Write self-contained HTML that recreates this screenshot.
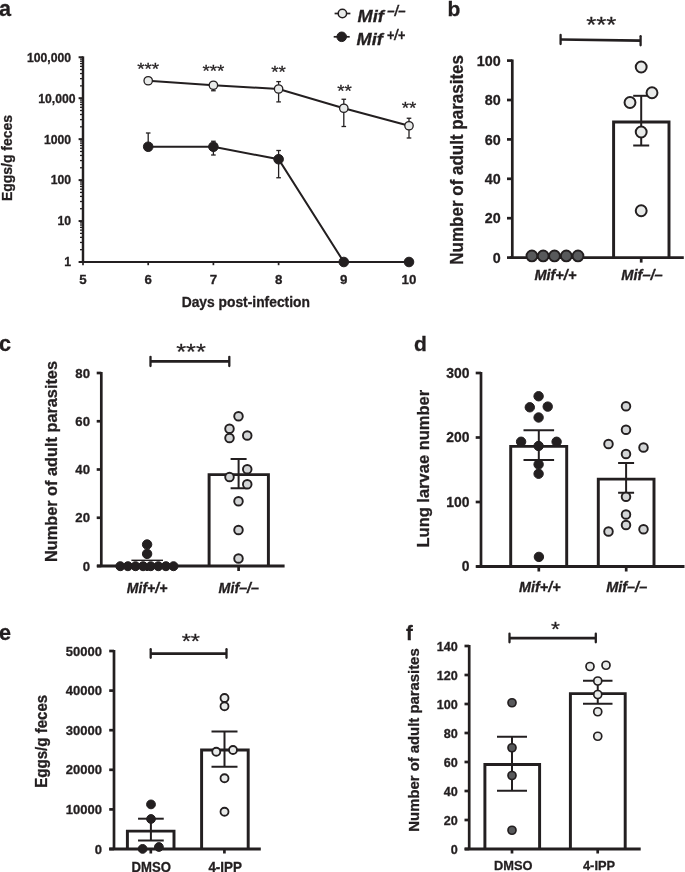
<!DOCTYPE html>
<html lang="en">
<head>
<meta charset="utf-8">
<title>Figure</title>
<style>
html,body{margin:0;padding:0;background:#fff;}
body{width:685px;height:872px;overflow:hidden;}
svg{display:block;}
svg text{font-family:"Liberation Sans",Arial,Helvetica,sans-serif;fill:#231f20;}
</style>
</head>
<body>
<svg width="685" height="872" viewBox="0 0 685 872">
<rect x="0" y="0" width="685" height="872" fill="#ffffff"/>
<text x="-1.00" y="15.90" font-size="21.6" font-weight="bold" font-style="normal" text-anchor="start" stroke="#231f20" stroke-width="0.3">a</text>
<line x1="80.00" y1="249.67" x2="83.00" y2="249.67" stroke="#231f20" stroke-width="1.3" stroke-linecap="butt"/>
<line x1="80.00" y1="242.46" x2="83.00" y2="242.46" stroke="#231f20" stroke-width="1.3" stroke-linecap="butt"/>
<line x1="80.00" y1="237.35" x2="83.00" y2="237.35" stroke="#231f20" stroke-width="1.3" stroke-linecap="butt"/>
<line x1="80.00" y1="233.38" x2="83.00" y2="233.38" stroke="#231f20" stroke-width="1.3" stroke-linecap="butt"/>
<line x1="80.00" y1="230.13" x2="83.00" y2="230.13" stroke="#231f20" stroke-width="1.3" stroke-linecap="butt"/>
<line x1="80.00" y1="227.39" x2="83.00" y2="227.39" stroke="#231f20" stroke-width="1.3" stroke-linecap="butt"/>
<line x1="80.00" y1="225.02" x2="83.00" y2="225.02" stroke="#231f20" stroke-width="1.3" stroke-linecap="butt"/>
<line x1="80.00" y1="222.92" x2="83.00" y2="222.92" stroke="#231f20" stroke-width="1.3" stroke-linecap="butt"/>
<line x1="80.00" y1="208.72" x2="83.00" y2="208.72" stroke="#231f20" stroke-width="1.3" stroke-linecap="butt"/>
<line x1="80.00" y1="201.51" x2="83.00" y2="201.51" stroke="#231f20" stroke-width="1.3" stroke-linecap="butt"/>
<line x1="80.00" y1="196.40" x2="83.00" y2="196.40" stroke="#231f20" stroke-width="1.3" stroke-linecap="butt"/>
<line x1="80.00" y1="192.43" x2="83.00" y2="192.43" stroke="#231f20" stroke-width="1.3" stroke-linecap="butt"/>
<line x1="80.00" y1="189.18" x2="83.00" y2="189.18" stroke="#231f20" stroke-width="1.3" stroke-linecap="butt"/>
<line x1="80.00" y1="186.44" x2="83.00" y2="186.44" stroke="#231f20" stroke-width="1.3" stroke-linecap="butt"/>
<line x1="80.00" y1="184.07" x2="83.00" y2="184.07" stroke="#231f20" stroke-width="1.3" stroke-linecap="butt"/>
<line x1="80.00" y1="181.97" x2="83.00" y2="181.97" stroke="#231f20" stroke-width="1.3" stroke-linecap="butt"/>
<line x1="80.00" y1="167.77" x2="83.00" y2="167.77" stroke="#231f20" stroke-width="1.3" stroke-linecap="butt"/>
<line x1="80.00" y1="160.56" x2="83.00" y2="160.56" stroke="#231f20" stroke-width="1.3" stroke-linecap="butt"/>
<line x1="80.00" y1="155.45" x2="83.00" y2="155.45" stroke="#231f20" stroke-width="1.3" stroke-linecap="butt"/>
<line x1="80.00" y1="151.48" x2="83.00" y2="151.48" stroke="#231f20" stroke-width="1.3" stroke-linecap="butt"/>
<line x1="80.00" y1="148.23" x2="83.00" y2="148.23" stroke="#231f20" stroke-width="1.3" stroke-linecap="butt"/>
<line x1="80.00" y1="145.49" x2="83.00" y2="145.49" stroke="#231f20" stroke-width="1.3" stroke-linecap="butt"/>
<line x1="80.00" y1="143.12" x2="83.00" y2="143.12" stroke="#231f20" stroke-width="1.3" stroke-linecap="butt"/>
<line x1="80.00" y1="141.02" x2="83.00" y2="141.02" stroke="#231f20" stroke-width="1.3" stroke-linecap="butt"/>
<line x1="80.00" y1="126.82" x2="83.00" y2="126.82" stroke="#231f20" stroke-width="1.3" stroke-linecap="butt"/>
<line x1="80.00" y1="119.61" x2="83.00" y2="119.61" stroke="#231f20" stroke-width="1.3" stroke-linecap="butt"/>
<line x1="80.00" y1="114.50" x2="83.00" y2="114.50" stroke="#231f20" stroke-width="1.3" stroke-linecap="butt"/>
<line x1="80.00" y1="110.53" x2="83.00" y2="110.53" stroke="#231f20" stroke-width="1.3" stroke-linecap="butt"/>
<line x1="80.00" y1="107.28" x2="83.00" y2="107.28" stroke="#231f20" stroke-width="1.3" stroke-linecap="butt"/>
<line x1="80.00" y1="104.54" x2="83.00" y2="104.54" stroke="#231f20" stroke-width="1.3" stroke-linecap="butt"/>
<line x1="80.00" y1="102.17" x2="83.00" y2="102.17" stroke="#231f20" stroke-width="1.3" stroke-linecap="butt"/>
<line x1="80.00" y1="100.07" x2="83.00" y2="100.07" stroke="#231f20" stroke-width="1.3" stroke-linecap="butt"/>
<line x1="80.00" y1="85.87" x2="83.00" y2="85.87" stroke="#231f20" stroke-width="1.3" stroke-linecap="butt"/>
<line x1="80.00" y1="78.66" x2="83.00" y2="78.66" stroke="#231f20" stroke-width="1.3" stroke-linecap="butt"/>
<line x1="80.00" y1="73.55" x2="83.00" y2="73.55" stroke="#231f20" stroke-width="1.3" stroke-linecap="butt"/>
<line x1="80.00" y1="69.58" x2="83.00" y2="69.58" stroke="#231f20" stroke-width="1.3" stroke-linecap="butt"/>
<line x1="80.00" y1="66.33" x2="83.00" y2="66.33" stroke="#231f20" stroke-width="1.3" stroke-linecap="butt"/>
<line x1="80.00" y1="63.59" x2="83.00" y2="63.59" stroke="#231f20" stroke-width="1.3" stroke-linecap="butt"/>
<line x1="80.00" y1="61.22" x2="83.00" y2="61.22" stroke="#231f20" stroke-width="1.3" stroke-linecap="butt"/>
<line x1="80.00" y1="59.12" x2="83.00" y2="59.12" stroke="#231f20" stroke-width="1.3" stroke-linecap="butt"/>
<line x1="78.60" y1="262.00" x2="83.00" y2="262.00" stroke="#231f20" stroke-width="2.0" stroke-linecap="butt"/>
<line x1="78.60" y1="221.05" x2="83.00" y2="221.05" stroke="#231f20" stroke-width="2.0" stroke-linecap="butt"/>
<line x1="78.60" y1="180.10" x2="83.00" y2="180.10" stroke="#231f20" stroke-width="2.0" stroke-linecap="butt"/>
<line x1="78.60" y1="139.15" x2="83.00" y2="139.15" stroke="#231f20" stroke-width="2.0" stroke-linecap="butt"/>
<line x1="78.60" y1="98.20" x2="83.00" y2="98.20" stroke="#231f20" stroke-width="2.0" stroke-linecap="butt"/>
<line x1="78.60" y1="57.25" x2="83.00" y2="57.25" stroke="#231f20" stroke-width="2.0" stroke-linecap="butt"/>
<line x1="83.00" y1="56.35" x2="83.00" y2="263.00" stroke="#231f20" stroke-width="2.45" stroke-linecap="butt"/>
<line x1="82.00" y1="262.00" x2="409.90" y2="262.00" stroke="#231f20" stroke-width="2.0" stroke-linecap="butt"/>
<line x1="83.00" y1="262.00" x2="83.00" y2="265.20" stroke="#231f20" stroke-width="1.7" stroke-linecap="butt"/>
<text x="83.00" y="284.10" font-size="13.3" font-weight="bold" font-style="normal" text-anchor="middle" stroke="#231f20" stroke-width="0.3">5</text>
<line x1="148.20" y1="262.00" x2="148.20" y2="265.20" stroke="#231f20" stroke-width="1.7" stroke-linecap="butt"/>
<text x="148.20" y="284.10" font-size="13.3" font-weight="bold" font-style="normal" text-anchor="middle" stroke="#231f20" stroke-width="0.3">6</text>
<line x1="213.40" y1="262.00" x2="213.40" y2="265.20" stroke="#231f20" stroke-width="1.7" stroke-linecap="butt"/>
<text x="213.40" y="284.10" font-size="13.3" font-weight="bold" font-style="normal" text-anchor="middle" stroke="#231f20" stroke-width="0.3">7</text>
<line x1="278.60" y1="262.00" x2="278.60" y2="265.20" stroke="#231f20" stroke-width="1.7" stroke-linecap="butt"/>
<text x="278.60" y="284.10" font-size="13.3" font-weight="bold" font-style="normal" text-anchor="middle" stroke="#231f20" stroke-width="0.3">8</text>
<line x1="343.80" y1="262.00" x2="343.80" y2="265.20" stroke="#231f20" stroke-width="1.7" stroke-linecap="butt"/>
<text x="343.80" y="284.10" font-size="13.3" font-weight="bold" font-style="normal" text-anchor="middle" stroke="#231f20" stroke-width="0.3">9</text>
<line x1="409.00" y1="262.00" x2="409.00" y2="265.20" stroke="#231f20" stroke-width="1.7" stroke-linecap="butt"/>
<text x="409.00" y="284.10" font-size="13.3" font-weight="bold" font-style="normal" text-anchor="middle" stroke="#231f20" stroke-width="0.3">10</text>
<text x="71.00" y="266.37" font-size="12.2" font-weight="bold" font-style="normal" text-anchor="end" stroke="#231f20" stroke-width="0.3">1</text>
<text x="71.00" y="225.42" font-size="12.2" font-weight="bold" font-style="normal" text-anchor="end" stroke="#231f20" stroke-width="0.3">10</text>
<text x="71.00" y="184.47" font-size="12.2" font-weight="bold" font-style="normal" text-anchor="end" stroke="#231f20" stroke-width="0.3">100</text>
<text x="71.00" y="143.52" font-size="12.2" font-weight="bold" font-style="normal" text-anchor="end" stroke="#231f20" stroke-width="0.3">1000</text>
<text x="75.60" y="102.57" font-size="12.2" font-weight="bold" font-style="normal" text-anchor="end" stroke="#231f20" stroke-width="0.3">10,000</text>
<text x="71.00" y="61.62" font-size="12.2" font-weight="bold" font-style="normal" text-anchor="end" stroke="#231f20" stroke-width="0.3">100,000</text>
<text transform="translate(12.40,158.00) rotate(-90)" font-size="14.9" font-weight="bold" font-style="normal" text-anchor="middle" stroke="#231f20" stroke-width="0.3" textLength="86.00" lengthAdjust="spacingAndGlyphs">Eggs/g feces</text>
<text x="245.80" y="306.70" font-size="13.8" font-weight="bold" font-style="normal" text-anchor="middle" stroke="#231f20" stroke-width="0.3" textLength="128.30" lengthAdjust="spacingAndGlyphs">Days post-infection</text>
<line x1="148.20" y1="133.00" x2="148.20" y2="146.75" stroke="#231f20" stroke-width="1.3" stroke-linecap="butt"/>
<line x1="145.90" y1="133.00" x2="150.50" y2="133.00" stroke="#231f20" stroke-width="1.3" stroke-linecap="butt"/>
<line x1="213.40" y1="141.25" x2="213.40" y2="155.00" stroke="#231f20" stroke-width="1.3" stroke-linecap="butt"/>
<line x1="211.10" y1="141.25" x2="215.70" y2="141.25" stroke="#231f20" stroke-width="1.3" stroke-linecap="butt"/>
<line x1="211.10" y1="155.00" x2="215.70" y2="155.00" stroke="#231f20" stroke-width="1.3" stroke-linecap="butt"/>
<line x1="278.60" y1="150.50" x2="278.60" y2="177.75" stroke="#231f20" stroke-width="1.3" stroke-linecap="butt"/>
<line x1="276.30" y1="150.50" x2="280.90" y2="150.50" stroke="#231f20" stroke-width="1.3" stroke-linecap="butt"/>
<line x1="276.30" y1="177.75" x2="280.90" y2="177.75" stroke="#231f20" stroke-width="1.3" stroke-linecap="butt"/>
<polyline points="148.20,146.75 213.40,146.75 278.60,159.25 343.80,262.00 409.00,262.00" fill="none" stroke="#231f20" stroke-width="2.0"/>
<circle cx="148.20" cy="146.75" r="4.80" fill="#231f20" stroke="#231f20" stroke-width="1.0"/>
<circle cx="213.40" cy="146.75" r="4.80" fill="#231f20" stroke="#231f20" stroke-width="1.0"/>
<circle cx="278.60" cy="159.25" r="4.80" fill="#231f20" stroke="#231f20" stroke-width="1.0"/>
<circle cx="343.80" cy="262.00" r="4.80" fill="#231f20" stroke="#231f20" stroke-width="1.0"/>
<circle cx="409.00" cy="262.00" r="4.80" fill="#231f20" stroke="#231f20" stroke-width="1.0"/>
<line x1="213.40" y1="85.25" x2="213.40" y2="90.75" stroke="#231f20" stroke-width="1.3" stroke-linecap="butt"/>
<line x1="211.10" y1="90.75" x2="215.70" y2="90.75" stroke="#231f20" stroke-width="1.3" stroke-linecap="butt"/>
<line x1="278.60" y1="81.60" x2="278.60" y2="101.90" stroke="#231f20" stroke-width="1.3" stroke-linecap="butt"/>
<line x1="276.30" y1="81.60" x2="280.90" y2="81.60" stroke="#231f20" stroke-width="1.3" stroke-linecap="butt"/>
<line x1="276.30" y1="101.90" x2="280.90" y2="101.90" stroke="#231f20" stroke-width="1.3" stroke-linecap="butt"/>
<line x1="343.80" y1="99.25" x2="343.80" y2="126.50" stroke="#231f20" stroke-width="1.3" stroke-linecap="butt"/>
<line x1="341.50" y1="99.25" x2="346.10" y2="99.25" stroke="#231f20" stroke-width="1.3" stroke-linecap="butt"/>
<line x1="341.50" y1="126.50" x2="346.10" y2="126.50" stroke="#231f20" stroke-width="1.3" stroke-linecap="butt"/>
<line x1="409.00" y1="118.25" x2="409.00" y2="138.00" stroke="#231f20" stroke-width="1.3" stroke-linecap="butt"/>
<line x1="406.70" y1="118.25" x2="411.30" y2="118.25" stroke="#231f20" stroke-width="1.3" stroke-linecap="butt"/>
<line x1="406.70" y1="138.00" x2="411.30" y2="138.00" stroke="#231f20" stroke-width="1.3" stroke-linecap="butt"/>
<polyline points="148.20,80.75 213.40,85.25 278.60,89.00 343.80,108.25 409.00,125.75" fill="none" stroke="#231f20" stroke-width="2.0"/>
<circle cx="148.20" cy="80.75" r="4.20" fill="#e9ebea" stroke="#231f20" stroke-width="1.3"/>
<circle cx="213.40" cy="85.25" r="4.20" fill="#e9ebea" stroke="#231f20" stroke-width="1.3"/>
<circle cx="278.60" cy="89.00" r="4.20" fill="#e9ebea" stroke="#231f20" stroke-width="1.3"/>
<circle cx="343.80" cy="108.25" r="4.20" fill="#e9ebea" stroke="#231f20" stroke-width="1.3"/>
<circle cx="409.00" cy="125.75" r="4.20" fill="#e9ebea" stroke="#231f20" stroke-width="1.3"/>
<text transform="translate(148.20,74.66) scale(1,0.88)" font-size="18.8" font-weight="normal" text-anchor="middle" stroke="#231f20" stroke-width="0.3">***</text>
<text transform="translate(213.40,77.16) scale(1,0.88)" font-size="18.8" font-weight="normal" text-anchor="middle" stroke="#231f20" stroke-width="0.3">***</text>
<text transform="translate(278.60,77.66) scale(1,0.88)" font-size="18.8" font-weight="normal" text-anchor="middle" stroke="#231f20" stroke-width="0.3">**</text>
<text transform="translate(344.50,96.96) scale(1,0.88)" font-size="18.8" font-weight="normal" text-anchor="middle" stroke="#231f20" stroke-width="0.3">**</text>
<text transform="translate(409.00,113.66) scale(1,0.88)" font-size="18.8" font-weight="normal" text-anchor="middle" stroke="#231f20" stroke-width="0.3">**</text>
<line x1="334.60" y1="13.50" x2="350.40" y2="13.50" stroke="#231f20" stroke-width="1.7" stroke-linecap="butt"/>
<circle cx="342.40" cy="13.50" r="4.20" fill="#e9ebea" stroke="#231f20" stroke-width="1.5"/>
<line x1="333.70" y1="36.80" x2="349.70" y2="36.80" stroke="#231f20" stroke-width="1.7" stroke-linecap="butt"/>
<circle cx="341.70" cy="36.80" r="4.80" fill="#231f20" stroke="#231f20" stroke-width="1.0"/>
<text x="357.60" y="21.50" font-size="16.5" font-weight="bold" font-style="italic" text-anchor="start" stroke="#231f20" stroke-width="0.3" textLength="26.20" lengthAdjust="spacingAndGlyphs">Mif</text>
<text x="387.20" y="16.10" font-size="14.5" font-weight="bold" font-style="italic" text-anchor="start" stroke="#231f20" stroke-width="0.3" textLength="18.30" lengthAdjust="spacingAndGlyphs">–/–</text>
<text x="356.60" y="45.10" font-size="16.5" font-weight="bold" font-style="italic" text-anchor="start" stroke="#231f20" stroke-width="0.3" textLength="26.20" lengthAdjust="spacingAndGlyphs">Mif</text>
<text x="386.80" y="40.20" font-size="14.5" font-weight="bold" font-style="italic" text-anchor="start" stroke="#231f20" stroke-width="0.3" textLength="18.30" lengthAdjust="spacingAndGlyphs">+/+</text>
<text x="447.60" y="15.60" font-size="21" font-weight="bold" font-style="normal" text-anchor="start" stroke="#231f20" stroke-width="0.3">b</text>
<line x1="512.30" y1="59.50" x2="512.30" y2="258.60" stroke="#231f20" stroke-width="2.7" stroke-linecap="butt"/>
<line x1="507.00" y1="257.60" x2="512.30" y2="257.60" stroke="#231f20" stroke-width="2.7" stroke-linecap="butt"/>
<text x="500.60" y="262.72" font-size="14.3" font-weight="bold" font-style="normal" text-anchor="end" stroke="#231f20" stroke-width="0.3">0</text>
<line x1="507.00" y1="218.20" x2="512.30" y2="218.20" stroke="#231f20" stroke-width="2.7" stroke-linecap="butt"/>
<text x="500.60" y="223.32" font-size="14.3" font-weight="bold" font-style="normal" text-anchor="end" stroke="#231f20" stroke-width="0.3">20</text>
<line x1="507.00" y1="178.80" x2="512.30" y2="178.80" stroke="#231f20" stroke-width="2.7" stroke-linecap="butt"/>
<text x="500.60" y="183.92" font-size="14.3" font-weight="bold" font-style="normal" text-anchor="end" stroke="#231f20" stroke-width="0.3">40</text>
<line x1="507.00" y1="139.40" x2="512.30" y2="139.40" stroke="#231f20" stroke-width="2.7" stroke-linecap="butt"/>
<text x="500.60" y="144.52" font-size="14.3" font-weight="bold" font-style="normal" text-anchor="end" stroke="#231f20" stroke-width="0.3">60</text>
<line x1="507.00" y1="100.00" x2="512.30" y2="100.00" stroke="#231f20" stroke-width="2.7" stroke-linecap="butt"/>
<text x="500.60" y="105.12" font-size="14.3" font-weight="bold" font-style="normal" text-anchor="end" stroke="#231f20" stroke-width="0.3">80</text>
<line x1="507.00" y1="60.60" x2="512.30" y2="60.60" stroke="#231f20" stroke-width="2.7" stroke-linecap="butt"/>
<text x="500.60" y="65.72" font-size="14.3" font-weight="bold" font-style="normal" text-anchor="end" stroke="#231f20" stroke-width="0.3">100</text>
<line x1="641.20" y1="257.60" x2="641.20" y2="262.60" stroke="#231f20" stroke-width="2.7" stroke-linecap="butt"/>
<line x1="555.20" y1="257.60" x2="555.20" y2="261.80" stroke="#231f20" stroke-width="2.7" stroke-linecap="butt"/>
<text transform="translate(463.20,159.85) rotate(-90)" font-size="17.6" font-weight="bold" font-style="normal" text-anchor="middle" stroke="#231f20" stroke-width="0.3" textLength="209.60" lengthAdjust="spacingAndGlyphs">Number of adult parasites</text>
<path d="M613.60,257.60 V121.90 H669.00 V257.60" fill="#fff" stroke="#231f20" stroke-width="2.95" stroke-linejoin="miter"/>
<line x1="509.80" y1="257.60" x2="683.80" y2="257.60" stroke="#231f20" stroke-width="2.8" stroke-linecap="butt"/>
<line x1="641.20" y1="95.80" x2="641.20" y2="145.50" stroke="#231f20" stroke-width="2.0" stroke-linecap="butt"/>
<line x1="633.20" y1="95.80" x2="649.20" y2="95.80" stroke="#231f20" stroke-width="2.0" stroke-linecap="butt"/>
<line x1="633.20" y1="145.50" x2="649.20" y2="145.50" stroke="#231f20" stroke-width="2.0" stroke-linecap="butt"/>
<circle cx="641.20" cy="67.00" r="5.45" fill="#e9ebea" stroke="#231f20" stroke-width="2.0"/>
<circle cx="652.00" cy="92.75" r="5.45" fill="#e9ebea" stroke="#231f20" stroke-width="2.0"/>
<circle cx="630.00" cy="102.50" r="5.45" fill="#e9ebea" stroke="#231f20" stroke-width="2.0"/>
<circle cx="641.20" cy="132.00" r="5.45" fill="#e9ebea" stroke="#231f20" stroke-width="2.0"/>
<circle cx="641.20" cy="210.75" r="5.45" fill="#e9ebea" stroke="#231f20" stroke-width="2.0"/>
<circle cx="531.90" cy="255.95" r="5.40" fill="#58595b" stroke="#231f20" stroke-width="1.9"/>
<circle cx="543.20" cy="255.95" r="5.40" fill="#58595b" stroke="#231f20" stroke-width="1.9"/>
<circle cx="554.50" cy="255.95" r="5.40" fill="#58595b" stroke="#231f20" stroke-width="1.9"/>
<circle cx="566.30" cy="255.95" r="5.40" fill="#58595b" stroke="#231f20" stroke-width="1.9"/>
<circle cx="578.00" cy="255.95" r="5.40" fill="#58595b" stroke="#231f20" stroke-width="1.9"/>
<line x1="560.60" y1="39.50" x2="640.60" y2="40.70" stroke="#231f20" stroke-width="2.75" stroke-linecap="butt"/>
<line x1="560.60" y1="34.95" x2="560.60" y2="44.05" stroke="#231f20" stroke-width="2.3" stroke-linecap="round"/>
<line x1="640.60" y1="36.15" x2="640.60" y2="45.25" stroke="#231f20" stroke-width="2.3" stroke-linecap="round"/>
<text transform="translate(601.30,32.45) scale(1,0.88)" font-size="25.8" font-weight="normal" text-anchor="middle" stroke="#231f20" stroke-width="0.3">***</text>
<text x="555.40" y="280.00" font-size="13.8" font-weight="bold" font-style="italic" text-anchor="middle" stroke="#231f20" stroke-width="0.3" textLength="42.00" lengthAdjust="spacingAndGlyphs">Mif+/+</text>
<text x="642.00" y="280.00" font-size="13.8" font-weight="bold" font-style="italic" text-anchor="middle" stroke="#231f20" stroke-width="0.3" textLength="41.50" lengthAdjust="spacingAndGlyphs">Mif–/–</text>
<text x="-0.90" y="351.20" font-size="21.6" font-weight="bold" font-style="normal" text-anchor="start" stroke="#231f20" stroke-width="0.3">c</text>
<line x1="101.30" y1="372.00" x2="101.30" y2="567.00" stroke="#231f20" stroke-width="2.7" stroke-linecap="butt"/>
<line x1="96.70" y1="566.00" x2="101.30" y2="566.00" stroke="#231f20" stroke-width="2.7" stroke-linecap="butt"/>
<text x="90.00" y="570.73" font-size="13.2" font-weight="bold" font-style="normal" text-anchor="end" stroke="#231f20" stroke-width="0.3">0</text>
<line x1="96.70" y1="517.75" x2="101.30" y2="517.75" stroke="#231f20" stroke-width="2.7" stroke-linecap="butt"/>
<text x="90.00" y="522.48" font-size="13.2" font-weight="bold" font-style="normal" text-anchor="end" stroke="#231f20" stroke-width="0.3">20</text>
<line x1="96.70" y1="469.50" x2="101.30" y2="469.50" stroke="#231f20" stroke-width="2.7" stroke-linecap="butt"/>
<text x="90.00" y="474.23" font-size="13.2" font-weight="bold" font-style="normal" text-anchor="end" stroke="#231f20" stroke-width="0.3">40</text>
<line x1="96.70" y1="421.25" x2="101.30" y2="421.25" stroke="#231f20" stroke-width="2.7" stroke-linecap="butt"/>
<text x="90.00" y="425.98" font-size="13.2" font-weight="bold" font-style="normal" text-anchor="end" stroke="#231f20" stroke-width="0.3">60</text>
<line x1="96.70" y1="373.00" x2="101.30" y2="373.00" stroke="#231f20" stroke-width="2.7" stroke-linecap="butt"/>
<text x="90.00" y="377.73" font-size="13.2" font-weight="bold" font-style="normal" text-anchor="end" stroke="#231f20" stroke-width="0.3">80</text>
<line x1="238.60" y1="566.00" x2="238.60" y2="571.00" stroke="#231f20" stroke-width="2.7" stroke-linecap="butt"/>
<line x1="147.10" y1="566.00" x2="147.10" y2="571.00" stroke="#231f20" stroke-width="2.7" stroke-linecap="butt"/>
<text transform="translate(57.00,461.50) rotate(-90)" font-size="16.4" font-weight="bold" font-style="normal" text-anchor="middle" stroke="#231f20" stroke-width="0.3" textLength="201.00" lengthAdjust="spacingAndGlyphs">Number of adult parasites</text>
<path d="M209.10,566.00 V474.60 H268.40 V566.00" fill="#fff" stroke="#231f20" stroke-width="2.95" stroke-linejoin="miter"/>
<line x1="97.00" y1="566.00" x2="284.60" y2="566.00" stroke="#231f20" stroke-width="2.8" stroke-linecap="butt"/>
<line x1="238.60" y1="459.00" x2="238.60" y2="488.25" stroke="#231f20" stroke-width="2.0" stroke-linecap="butt"/>
<line x1="230.60" y1="459.00" x2="246.60" y2="459.00" stroke="#231f20" stroke-width="2.0" stroke-linecap="butt"/>
<line x1="230.60" y1="488.25" x2="246.60" y2="488.25" stroke="#231f20" stroke-width="2.0" stroke-linecap="butt"/>
<circle cx="238.50" cy="416.25" r="4.30" fill="#d3d5d6" stroke="#231f20" stroke-width="1.9"/>
<circle cx="229.50" cy="428.75" r="4.30" fill="#d3d5d6" stroke="#231f20" stroke-width="1.9"/>
<circle cx="229.50" cy="438.00" r="4.30" fill="#d3d5d6" stroke="#231f20" stroke-width="1.9"/>
<circle cx="247.25" cy="435.50" r="4.30" fill="#d3d5d6" stroke="#231f20" stroke-width="1.9"/>
<circle cx="247.25" cy="469.25" r="4.30" fill="#d3d5d6" stroke="#231f20" stroke-width="1.9"/>
<circle cx="229.50" cy="477.00" r="4.30" fill="#d3d5d6" stroke="#231f20" stroke-width="1.9"/>
<circle cx="247.25" cy="484.25" r="4.30" fill="#d3d5d6" stroke="#231f20" stroke-width="1.9"/>
<circle cx="238.50" cy="501.25" r="4.30" fill="#d3d5d6" stroke="#231f20" stroke-width="1.9"/>
<circle cx="238.50" cy="530.00" r="4.30" fill="#d3d5d6" stroke="#231f20" stroke-width="1.9"/>
<circle cx="238.50" cy="558.50" r="4.30" fill="#d3d5d6" stroke="#231f20" stroke-width="1.9"/>
<line x1="131.40" y1="560.30" x2="163.00" y2="560.30" stroke="#231f20" stroke-width="1.4" stroke-linecap="butt"/>
<circle cx="120.30" cy="566.20" r="4.50" fill="#231f20" stroke="#231f20" stroke-width="1.0"/>
<circle cx="127.90" cy="566.20" r="4.50" fill="#231f20" stroke="#231f20" stroke-width="1.0"/>
<circle cx="135.50" cy="566.20" r="4.50" fill="#231f20" stroke="#231f20" stroke-width="1.0"/>
<circle cx="143.10" cy="566.20" r="4.50" fill="#231f20" stroke="#231f20" stroke-width="1.0"/>
<circle cx="150.70" cy="566.20" r="4.50" fill="#231f20" stroke="#231f20" stroke-width="1.0"/>
<circle cx="158.30" cy="566.20" r="4.50" fill="#231f20" stroke="#231f20" stroke-width="1.0"/>
<circle cx="165.90" cy="566.20" r="4.50" fill="#231f20" stroke="#231f20" stroke-width="1.0"/>
<circle cx="173.50" cy="566.20" r="4.50" fill="#231f20" stroke="#231f20" stroke-width="1.0"/>
<circle cx="147.10" cy="553.90" r="4.70" fill="#231f20" stroke="#231f20" stroke-width="1.0"/>
<circle cx="147.10" cy="544.50" r="4.70" fill="#231f20" stroke="#231f20" stroke-width="1.0"/>
<line x1="150.50" y1="361.40" x2="229.30" y2="361.40" stroke="#231f20" stroke-width="2.75" stroke-linecap="butt"/>
<line x1="150.50" y1="356.80" x2="150.50" y2="366.00" stroke="#231f20" stroke-width="2.3" stroke-linecap="round"/>
<line x1="229.30" y1="356.80" x2="229.30" y2="366.00" stroke="#231f20" stroke-width="2.3" stroke-linecap="round"/>
<text transform="translate(191.00,359.19) scale(1,0.88)" font-size="25.4" font-weight="normal" text-anchor="middle" stroke="#231f20" stroke-width="0.3">***</text>
<text x="147.10" y="592.60" font-size="13.8" font-weight="bold" font-style="italic" text-anchor="middle" stroke="#231f20" stroke-width="0.3" textLength="40.50" lengthAdjust="spacingAndGlyphs">Mif+/+</text>
<text x="238.80" y="592.60" font-size="13.8" font-weight="bold" font-style="italic" text-anchor="middle" stroke="#231f20" stroke-width="0.3" textLength="40.50" lengthAdjust="spacingAndGlyphs">Mif–/–</text>
<text x="414.00" y="351.00" font-size="21" font-weight="bold" font-style="normal" text-anchor="start" stroke="#231f20" stroke-width="0.3">d</text>
<line x1="481.00" y1="372.00" x2="481.00" y2="567.50" stroke="#231f20" stroke-width="2.7" stroke-linecap="butt"/>
<line x1="475.70" y1="566.50" x2="481.00" y2="566.50" stroke="#231f20" stroke-width="2.7" stroke-linecap="butt"/>
<text x="469.40" y="571.48" font-size="13.9" font-weight="bold" font-style="normal" text-anchor="end" stroke="#231f20" stroke-width="0.3">0</text>
<line x1="475.70" y1="502.00" x2="481.00" y2="502.00" stroke="#231f20" stroke-width="2.7" stroke-linecap="butt"/>
<text x="469.40" y="506.98" font-size="13.9" font-weight="bold" font-style="normal" text-anchor="end" stroke="#231f20" stroke-width="0.3">100</text>
<line x1="475.70" y1="437.50" x2="481.00" y2="437.50" stroke="#231f20" stroke-width="2.7" stroke-linecap="butt"/>
<text x="469.40" y="442.48" font-size="13.9" font-weight="bold" font-style="normal" text-anchor="end" stroke="#231f20" stroke-width="0.3">200</text>
<line x1="475.70" y1="373.00" x2="481.00" y2="373.00" stroke="#231f20" stroke-width="2.7" stroke-linecap="butt"/>
<text x="469.40" y="377.98" font-size="13.9" font-weight="bold" font-style="normal" text-anchor="end" stroke="#231f20" stroke-width="0.3">300</text>
<line x1="538.80" y1="566.50" x2="538.80" y2="571.50" stroke="#231f20" stroke-width="2.7" stroke-linecap="butt"/>
<line x1="626.20" y1="566.50" x2="626.20" y2="571.50" stroke="#231f20" stroke-width="2.7" stroke-linecap="butt"/>
<text transform="translate(428.70,468.70) rotate(-90)" font-size="16.6" font-weight="bold" font-style="normal" text-anchor="middle" stroke="#231f20" stroke-width="0.3" textLength="157.60" lengthAdjust="spacingAndGlyphs">Lung larvae number</text>
<path d="M510.70,566.50 V446.35 H566.70 V566.50" fill="#fff" stroke="#231f20" stroke-width="2.95" stroke-linejoin="miter"/>
<path d="M598.30,566.50 V479.10 H654.00 V566.50" fill="#fff" stroke="#231f20" stroke-width="2.95" stroke-linejoin="miter"/>
<line x1="476.20" y1="566.50" x2="684.50" y2="566.50" stroke="#231f20" stroke-width="2.8" stroke-linecap="butt"/>
<line x1="538.80" y1="430.25" x2="538.80" y2="460.00" stroke="#231f20" stroke-width="2.0" stroke-linecap="butt"/>
<line x1="523.50" y1="430.25" x2="554.10" y2="430.25" stroke="#231f20" stroke-width="2.0" stroke-linecap="butt"/>
<line x1="523.50" y1="460.00" x2="554.10" y2="460.00" stroke="#231f20" stroke-width="2.0" stroke-linecap="butt"/>
<line x1="626.10" y1="463.00" x2="626.10" y2="492.75" stroke="#231f20" stroke-width="2.0" stroke-linecap="butt"/>
<line x1="618.10" y1="463.00" x2="634.10" y2="463.00" stroke="#231f20" stroke-width="2.0" stroke-linecap="butt"/>
<line x1="618.10" y1="492.75" x2="634.10" y2="492.75" stroke="#231f20" stroke-width="2.0" stroke-linecap="butt"/>
<circle cx="538.60" cy="396.25" r="4.70" fill="#231f20" stroke="#231f20" stroke-width="1.0"/>
<circle cx="529.80" cy="407.30" r="4.70" fill="#231f20" stroke="#231f20" stroke-width="1.0"/>
<circle cx="547.70" cy="406.60" r="4.70" fill="#231f20" stroke="#231f20" stroke-width="1.0"/>
<circle cx="538.60" cy="417.50" r="4.70" fill="#231f20" stroke="#231f20" stroke-width="1.0"/>
<circle cx="521.10" cy="441.75" r="4.70" fill="#231f20" stroke="#231f20" stroke-width="1.0"/>
<circle cx="556.60" cy="441.75" r="4.70" fill="#231f20" stroke="#231f20" stroke-width="1.0"/>
<circle cx="538.60" cy="446.00" r="4.70" fill="#231f20" stroke="#231f20" stroke-width="1.0"/>
<circle cx="538.60" cy="464.40" r="4.70" fill="#231f20" stroke="#231f20" stroke-width="1.0"/>
<circle cx="538.60" cy="473.75" r="4.70" fill="#231f20" stroke="#231f20" stroke-width="1.0"/>
<circle cx="538.90" cy="556.90" r="4.70" fill="#231f20" stroke="#231f20" stroke-width="1.0"/>
<circle cx="626.00" cy="406.25" r="4.30" fill="#d3d5d6" stroke="#231f20" stroke-width="1.9"/>
<circle cx="626.00" cy="429.75" r="4.30" fill="#d3d5d6" stroke="#231f20" stroke-width="1.9"/>
<circle cx="608.50" cy="444.00" r="4.30" fill="#d3d5d6" stroke="#231f20" stroke-width="1.9"/>
<circle cx="643.50" cy="447.50" r="4.30" fill="#d3d5d6" stroke="#231f20" stroke-width="1.9"/>
<circle cx="626.00" cy="454.00" r="4.30" fill="#d3d5d6" stroke="#231f20" stroke-width="1.9"/>
<circle cx="626.00" cy="496.75" r="4.30" fill="#d3d5d6" stroke="#231f20" stroke-width="1.9"/>
<circle cx="626.00" cy="514.50" r="4.30" fill="#d3d5d6" stroke="#231f20" stroke-width="1.9"/>
<circle cx="626.00" cy="525.00" r="4.30" fill="#d3d5d6" stroke="#231f20" stroke-width="1.9"/>
<circle cx="608.50" cy="531.50" r="4.30" fill="#d3d5d6" stroke="#231f20" stroke-width="1.9"/>
<circle cx="643.50" cy="529.25" r="4.30" fill="#d3d5d6" stroke="#231f20" stroke-width="1.9"/>
<text x="539.80" y="591.60" font-size="13.8" font-weight="bold" font-style="italic" text-anchor="middle" stroke="#231f20" stroke-width="0.3" textLength="41.50" lengthAdjust="spacingAndGlyphs">Mif+/+</text>
<text x="626.70" y="591.60" font-size="13.8" font-weight="bold" font-style="italic" text-anchor="middle" stroke="#231f20" stroke-width="0.3" textLength="41.00" lengthAdjust="spacingAndGlyphs">Mif–/–</text>
<text x="-0.90" y="640.30" font-size="21.6" font-weight="bold" font-style="normal" text-anchor="start" stroke="#231f20" stroke-width="0.3">e</text>
<line x1="114.00" y1="650.00" x2="114.00" y2="850.00" stroke="#231f20" stroke-width="2.7" stroke-linecap="butt"/>
<line x1="109.20" y1="849.00" x2="114.00" y2="849.00" stroke="#231f20" stroke-width="2.7" stroke-linecap="butt"/>
<text x="102.00" y="853.65" font-size="13.0" font-weight="bold" font-style="normal" text-anchor="end" stroke="#231f20" stroke-width="0.3">0</text>
<line x1="109.20" y1="809.40" x2="114.00" y2="809.40" stroke="#231f20" stroke-width="2.7" stroke-linecap="butt"/>
<text x="102.00" y="814.05" font-size="13.0" font-weight="bold" font-style="normal" text-anchor="end" stroke="#231f20" stroke-width="0.3">10000</text>
<line x1="109.20" y1="769.80" x2="114.00" y2="769.80" stroke="#231f20" stroke-width="2.7" stroke-linecap="butt"/>
<text x="102.00" y="774.45" font-size="13.0" font-weight="bold" font-style="normal" text-anchor="end" stroke="#231f20" stroke-width="0.3">20000</text>
<line x1="109.20" y1="730.20" x2="114.00" y2="730.20" stroke="#231f20" stroke-width="2.7" stroke-linecap="butt"/>
<text x="102.00" y="734.85" font-size="13.0" font-weight="bold" font-style="normal" text-anchor="end" stroke="#231f20" stroke-width="0.3">30000</text>
<line x1="109.20" y1="690.60" x2="114.00" y2="690.60" stroke="#231f20" stroke-width="2.7" stroke-linecap="butt"/>
<text x="102.00" y="695.25" font-size="13.0" font-weight="bold" font-style="normal" text-anchor="end" stroke="#231f20" stroke-width="0.3">40000</text>
<line x1="109.20" y1="651.00" x2="114.00" y2="651.00" stroke="#231f20" stroke-width="2.7" stroke-linecap="butt"/>
<text x="102.00" y="655.65" font-size="13.0" font-weight="bold" font-style="normal" text-anchor="end" stroke="#231f20" stroke-width="0.3">50000</text>
<line x1="150.80" y1="849.00" x2="150.80" y2="853.50" stroke="#231f20" stroke-width="2.7" stroke-linecap="butt"/>
<line x1="224.40" y1="849.00" x2="224.40" y2="853.50" stroke="#231f20" stroke-width="2.7" stroke-linecap="butt"/>
<text transform="translate(47.00,741.30) rotate(-90)" font-size="15.8" font-weight="bold" font-style="normal" text-anchor="middle" stroke="#231f20" stroke-width="0.3" textLength="93.00" lengthAdjust="spacingAndGlyphs">Eggs/g feces</text>
<path d="M127.40,849.00 V831.10 H174.00 V849.00" fill="#fff" stroke="#231f20" stroke-width="2.95" stroke-linejoin="miter"/>
<path d="M201.60,849.00 V749.90 H248.20 V849.00" fill="#fff" stroke="#231f20" stroke-width="2.95" stroke-linejoin="miter"/>
<line x1="109.20" y1="849.00" x2="260.80" y2="849.00" stroke="#231f20" stroke-width="2.8" stroke-linecap="butt"/>
<line x1="150.90" y1="818.70" x2="150.90" y2="840.50" stroke="#231f20" stroke-width="2.0" stroke-linecap="butt"/>
<line x1="138.05" y1="818.70" x2="163.75" y2="818.70" stroke="#231f20" stroke-width="2.0" stroke-linecap="butt"/>
<line x1="138.05" y1="840.50" x2="163.75" y2="840.50" stroke="#231f20" stroke-width="2.0" stroke-linecap="butt"/>
<line x1="224.50" y1="731.50" x2="224.50" y2="766.75" stroke="#231f20" stroke-width="2.0" stroke-linecap="butt"/>
<line x1="211.50" y1="731.50" x2="237.50" y2="731.50" stroke="#231f20" stroke-width="2.0" stroke-linecap="butt"/>
<line x1="211.50" y1="766.75" x2="237.50" y2="766.75" stroke="#231f20" stroke-width="2.0" stroke-linecap="butt"/>
<circle cx="151.00" cy="804.40" r="4.40" fill="#231f20" stroke="#231f20" stroke-width="1.0"/>
<circle cx="151.00" cy="819.00" r="4.40" fill="#231f20" stroke="#231f20" stroke-width="1.0"/>
<circle cx="142.60" cy="848.90" r="4.40" fill="#231f20" stroke="#231f20" stroke-width="1.0"/>
<circle cx="158.90" cy="847.00" r="4.40" fill="#231f20" stroke="#231f20" stroke-width="1.0"/>
<circle cx="224.50" cy="698.00" r="4.00" fill="#e9ebea" stroke="#231f20" stroke-width="1.8"/>
<circle cx="224.50" cy="706.25" r="4.00" fill="#e9ebea" stroke="#231f20" stroke-width="1.8"/>
<circle cx="216.25" cy="751.75" r="4.00" fill="#e9ebea" stroke="#231f20" stroke-width="1.8"/>
<circle cx="233.00" cy="750.00" r="4.00" fill="#e9ebea" stroke="#231f20" stroke-width="1.8"/>
<circle cx="224.50" cy="778.25" r="4.00" fill="#e9ebea" stroke="#231f20" stroke-width="1.8"/>
<circle cx="224.50" cy="811.75" r="4.00" fill="#e9ebea" stroke="#231f20" stroke-width="1.8"/>
<line x1="150.70" y1="653.50" x2="226.50" y2="653.50" stroke="#231f20" stroke-width="2.75" stroke-linecap="butt"/>
<line x1="150.70" y1="649.25" x2="150.70" y2="657.75" stroke="#231f20" stroke-width="2.3" stroke-linecap="round"/>
<line x1="226.50" y1="649.25" x2="226.50" y2="657.75" stroke="#231f20" stroke-width="2.3" stroke-linecap="round"/>
<text transform="translate(190.80,648.28) scale(1,0.88)" font-size="23.5" font-weight="normal" text-anchor="middle" stroke="#231f20" stroke-width="0.3">**</text>
<text x="151.20" y="871.60" font-size="13.8" font-weight="bold" font-style="normal" text-anchor="middle" stroke="#231f20" stroke-width="0.3" textLength="39.40" lengthAdjust="spacingAndGlyphs">DMSO</text>
<text x="225.20" y="871.60" font-size="13.8" font-weight="bold" font-style="normal" text-anchor="middle" stroke="#231f20" stroke-width="0.3" textLength="33.60" lengthAdjust="spacingAndGlyphs">4-IPP</text>
<text x="405.90" y="639.80" font-size="20.4" font-weight="bold" font-style="normal" text-anchor="start" stroke="#231f20" stroke-width="0.3">f</text>
<line x1="469.20" y1="645.00" x2="469.20" y2="850.00" stroke="#231f20" stroke-width="2.7" stroke-linecap="butt"/>
<line x1="464.50" y1="849.00" x2="469.20" y2="849.00" stroke="#231f20" stroke-width="2.7" stroke-linecap="butt"/>
<text x="457.70" y="853.51" font-size="12.6" font-weight="bold" font-style="normal" text-anchor="end" stroke="#231f20" stroke-width="0.3">0</text>
<line x1="464.50" y1="820.00" x2="469.20" y2="820.00" stroke="#231f20" stroke-width="2.7" stroke-linecap="butt"/>
<text x="457.70" y="824.51" font-size="12.6" font-weight="bold" font-style="normal" text-anchor="end" stroke="#231f20" stroke-width="0.3">20</text>
<line x1="464.50" y1="791.00" x2="469.20" y2="791.00" stroke="#231f20" stroke-width="2.7" stroke-linecap="butt"/>
<text x="457.70" y="795.51" font-size="12.6" font-weight="bold" font-style="normal" text-anchor="end" stroke="#231f20" stroke-width="0.3">40</text>
<line x1="464.50" y1="762.00" x2="469.20" y2="762.00" stroke="#231f20" stroke-width="2.7" stroke-linecap="butt"/>
<text x="457.70" y="766.51" font-size="12.6" font-weight="bold" font-style="normal" text-anchor="end" stroke="#231f20" stroke-width="0.3">60</text>
<line x1="464.50" y1="733.00" x2="469.20" y2="733.00" stroke="#231f20" stroke-width="2.7" stroke-linecap="butt"/>
<text x="457.70" y="737.51" font-size="12.6" font-weight="bold" font-style="normal" text-anchor="end" stroke="#231f20" stroke-width="0.3">80</text>
<line x1="464.50" y1="704.00" x2="469.20" y2="704.00" stroke="#231f20" stroke-width="2.7" stroke-linecap="butt"/>
<text x="457.70" y="708.51" font-size="12.6" font-weight="bold" font-style="normal" text-anchor="end" stroke="#231f20" stroke-width="0.3">100</text>
<line x1="464.50" y1="675.00" x2="469.20" y2="675.00" stroke="#231f20" stroke-width="2.7" stroke-linecap="butt"/>
<text x="457.70" y="679.51" font-size="12.6" font-weight="bold" font-style="normal" text-anchor="end" stroke="#231f20" stroke-width="0.3">120</text>
<line x1="464.50" y1="646.00" x2="469.20" y2="646.00" stroke="#231f20" stroke-width="2.7" stroke-linecap="butt"/>
<text x="457.70" y="650.51" font-size="12.6" font-weight="bold" font-style="normal" text-anchor="end" stroke="#231f20" stroke-width="0.3">140</text>
<line x1="512.00" y1="849.00" x2="512.00" y2="853.50" stroke="#231f20" stroke-width="2.7" stroke-linecap="butt"/>
<line x1="597.70" y1="849.00" x2="597.70" y2="853.50" stroke="#231f20" stroke-width="2.7" stroke-linecap="butt"/>
<text transform="translate(419.20,740.00) rotate(-90)" font-size="15.5" font-weight="bold" font-style="normal" text-anchor="middle" stroke="#231f20" stroke-width="0.3" textLength="183.30" lengthAdjust="spacingAndGlyphs">Number of adult parasites</text>
<path d="M484.90,849.00 V764.40 H539.60 V849.00" fill="#fff" stroke="#231f20" stroke-width="2.95" stroke-linejoin="miter"/>
<path d="M570.40,849.00 V693.60 H625.20 V849.00" fill="#fff" stroke="#231f20" stroke-width="2.95" stroke-linejoin="miter"/>
<line x1="464.70" y1="849.00" x2="640.70" y2="849.00" stroke="#231f20" stroke-width="2.8" stroke-linecap="butt"/>
<line x1="512.00" y1="736.75" x2="512.00" y2="790.75" stroke="#231f20" stroke-width="2.0" stroke-linecap="butt"/>
<line x1="497.00" y1="736.75" x2="527.00" y2="736.75" stroke="#231f20" stroke-width="2.0" stroke-linecap="butt"/>
<line x1="497.00" y1="790.75" x2="527.00" y2="790.75" stroke="#231f20" stroke-width="2.0" stroke-linecap="butt"/>
<line x1="597.75" y1="680.75" x2="597.75" y2="703.75" stroke="#231f20" stroke-width="2.0" stroke-linecap="butt"/>
<line x1="583.00" y1="680.75" x2="612.50" y2="680.75" stroke="#231f20" stroke-width="2.0" stroke-linecap="butt"/>
<line x1="583.00" y1="703.75" x2="612.50" y2="703.75" stroke="#231f20" stroke-width="2.0" stroke-linecap="butt"/>
<circle cx="512.00" cy="702.75" r="4.00" fill="#58595b" stroke="#231f20" stroke-width="1.7"/>
<circle cx="512.00" cy="747.75" r="4.00" fill="#58595b" stroke="#231f20" stroke-width="1.7"/>
<circle cx="512.00" cy="775.50" r="4.00" fill="#58595b" stroke="#231f20" stroke-width="1.7"/>
<circle cx="512.00" cy="830.25" r="4.00" fill="#58595b" stroke="#231f20" stroke-width="1.7"/>
<circle cx="590.00" cy="666.50" r="4.00" fill="#e9ebea" stroke="#231f20" stroke-width="1.7"/>
<circle cx="606.00" cy="665.25" r="4.00" fill="#e9ebea" stroke="#231f20" stroke-width="1.7"/>
<circle cx="597.75" cy="681.00" r="4.00" fill="#e9ebea" stroke="#231f20" stroke-width="1.7"/>
<circle cx="597.75" cy="694.50" r="4.00" fill="#e9ebea" stroke="#231f20" stroke-width="1.7"/>
<circle cx="597.75" cy="711.75" r="4.00" fill="#e9ebea" stroke="#231f20" stroke-width="1.7"/>
<circle cx="597.75" cy="736.25" r="4.00" fill="#e9ebea" stroke="#231f20" stroke-width="1.7"/>
<line x1="509.50" y1="638.00" x2="595.80" y2="638.00" stroke="#231f20" stroke-width="2.75" stroke-linecap="butt"/>
<line x1="509.50" y1="633.65" x2="509.50" y2="642.35" stroke="#231f20" stroke-width="2.3" stroke-linecap="round"/>
<line x1="595.80" y1="633.65" x2="595.80" y2="642.35" stroke="#231f20" stroke-width="2.3" stroke-linecap="round"/>
<text transform="translate(555.50,635.53) scale(1,0.88)" font-size="22.8" font-weight="normal" text-anchor="middle" stroke="#231f20" stroke-width="0.3">*</text>
<text x="513.20" y="870.30" font-size="13.0" font-weight="bold" font-style="normal" text-anchor="middle" stroke="#231f20" stroke-width="0.3" textLength="38.50" lengthAdjust="spacingAndGlyphs">DMSO</text>
<text x="599.00" y="870.30" font-size="13.0" font-weight="bold" font-style="normal" text-anchor="middle" stroke="#231f20" stroke-width="0.3" textLength="32.00" lengthAdjust="spacingAndGlyphs">4-IPP</text>
</svg>
</body>
</html>
